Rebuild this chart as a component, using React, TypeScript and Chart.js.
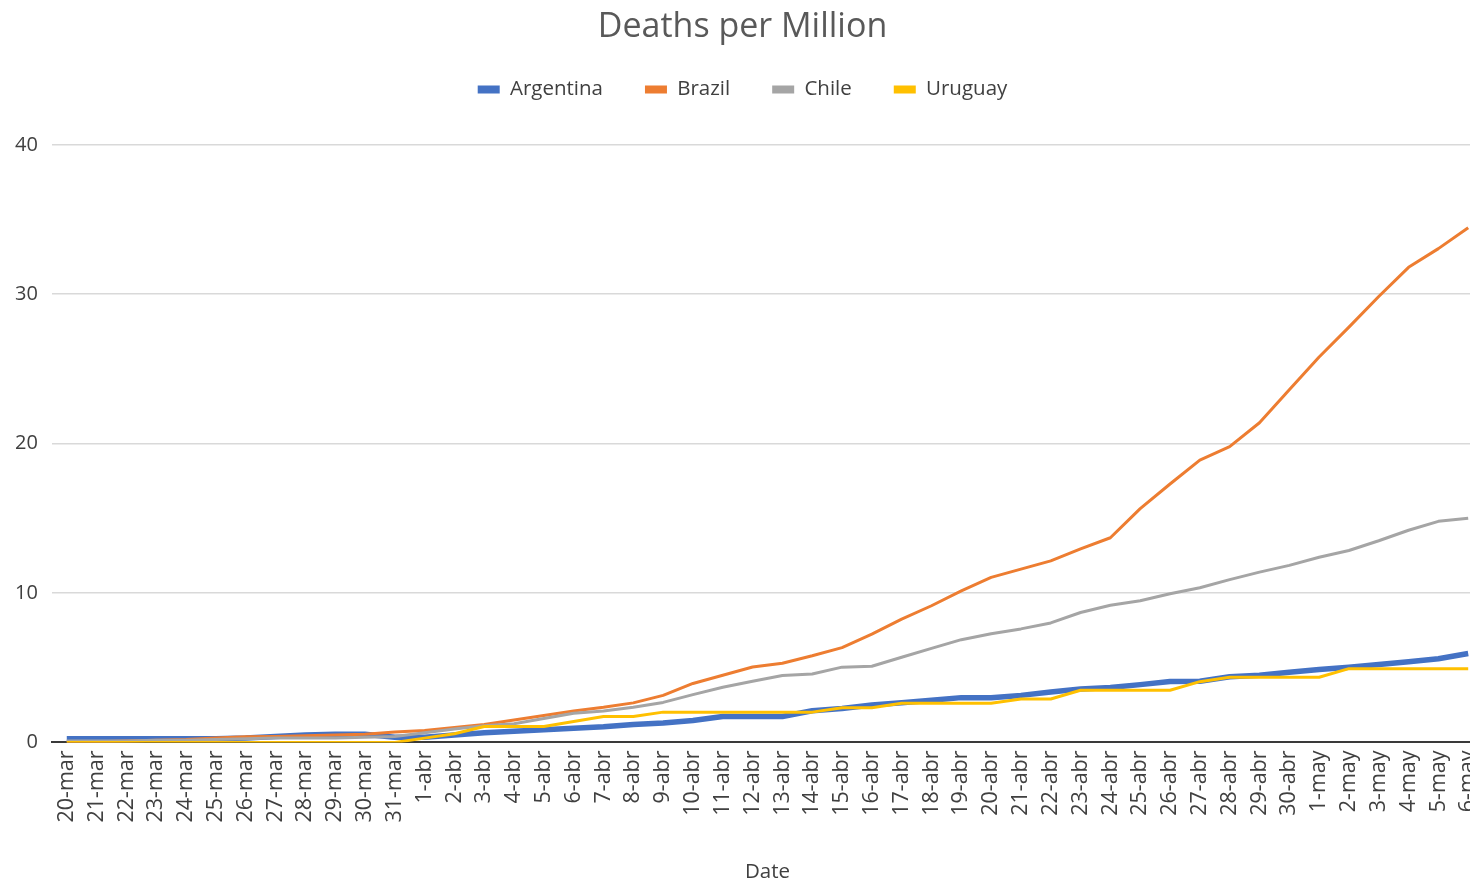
import React, { useEffect, useRef } from "react";
import { Chart, registerables } from "chart.js";

Chart.register(...registerables);

const dateLabels: string[] = [
  "20-mar", "21-mar", "22-mar", "23-mar", "24-mar", "25-mar", "26-mar", "27-mar", "28-mar", "29-mar", "30-mar", "31-mar",
  "1-abr", "2-abr", "3-abr", "4-abr", "5-abr", "6-abr", "7-abr", "8-abr", "9-abr", "10-abr",
  "11-abr", "12-abr", "13-abr", "14-abr", "15-abr", "16-abr", "17-abr", "18-abr", "19-abr", "20-abr",
  "21-abr", "22-abr", "23-abr", "24-abr", "25-abr", "26-abr", "27-abr", "28-abr", "29-abr", "30-abr",
  "1-may", "2-may", "3-may", "4-may", "5-may", "6-may",
];

const argentina: number[] = [
  0.25, 0.25, 0.25, 0.25, 0.25, 0.25, 0.3, 0.4, 0.5, 0.55, 0.55, 0.35,
  0.35, 0.5, 0.65, 0.75, 0.85, 0.95, 1.05, 1.2, 1.3, 1.47,
  1.74, 1.74, 1.74, 2.12, 2.27, 2.5, 2.65, 2.82, 3.0, 3.0,
  3.15, 3.38, 3.58, 3.68, 3.87, 4.08, 4.1, 4.4, 4.5, 4.7,
  4.88, 5.04, 5.22, 5.4, 5.6, 5.95,
];

const brazil: number[] = [
  0.05, 0.05, 0.1, 0.15, 0.2, 0.3, 0.38, 0.4, 0.45, 0.5, 0.55, 0.7,
  0.8, 1.0, 1.2, 1.5, 1.8, 2.1, 2.35, 2.65, 3.15, 3.95,
  4.5, 5.05, 5.3, 5.8, 6.35, 7.25, 8.25, 9.15, 10.15, 11.05,
  11.6, 12.15, 12.95, 13.7, 15.65, 17.3, 18.9, 19.8, 21.4, 23.6,
  25.8, 27.8, 29.85, 31.8, 33.05, 34.45,
];

const chile: number[] = [
  0.1, 0.1, 0.1, 0.15, 0.15, 0.2, 0.25, 0.3, 0.3, 0.3, 0.35, 0.4,
  0.65, 0.9, 1.12, 1.25, 1.6, 1.95, 2.1, 2.35, 2.68, 3.2,
  3.7, 4.1, 4.48, 4.58, 5.04, 5.1, 5.7, 6.3, 6.88, 7.28,
  7.6, 8.0, 8.7, 9.18, 9.48, 9.95, 10.35, 10.9, 11.4, 11.85,
  12.4, 12.85, 13.5, 14.2, 14.8, 15.0,
];

const uruguay: number[] = [
  0, 0, 0, 0, 0, 0, 0, 0, 0, 0, 0, 0,
  0.29, 0.58, 1.07, 1.07, 1.07, 1.4, 1.74, 1.74, 2.03, 2.03,
  2.03, 2.03, 2.03, 2.03, 2.33, 2.33, 2.62, 2.62, 2.62, 2.62,
  2.91, 2.91, 3.49, 3.49, 3.49, 3.49, 4.07, 4.36, 4.36, 4.36,
  4.36, 4.94, 4.94, 4.94, 4.94, 4.94,
];

const seriesNames: string[] = ["Argentina", "Brazil", "Chile", "Uruguay"];
const seriesColors: string[] = ["#4472C4", "#ED7D31", "#A5A5A5", "#FFC000"];
const seriesWidths: number[] = [5.5, 3, 3, 3];
// lower order is painted later (on top): Uruguay above Chile above Brazil above Argentina
const seriesOrder: number[] = [3, 2, 1, 0];

const FONT = "'Open Sans', 'Noto Sans', sans-serif";

// extra room between the legend row and the plot area
const legendGap = {
  id: "legendGap",
  beforeInit(chart: any) {
    const legend = chart.legend;
    if (!legend) return;
    const fit = legend.fit;
    legend.fit = function () {
      fit.call(this);
      this.height += 35;
    };
  },
};

export default function App() {
  const canvasRef = useRef<HTMLCanvasElement | null>(null);

  useEffect(() => {
    const canvas = canvasRef.current;
    if (!canvas) return;
    const values = [argentina, brazil, chile, uruguay];

    const chart = new Chart(canvas, {
      type: "line",
      data: {
        labels: dateLabels,
        datasets: seriesNames.map((name, i) => ({
          label: name,
          data: values[i],
          borderColor: seriesColors[i],
          backgroundColor: seriesColors[i],
          borderWidth: seriesWidths[i],
          pointRadius: 0,
          tension: 0,
          fill: false,
          order: seriesOrder[i],
          borderJoinStyle: "round" as const,
        })),
      },
      plugins: [legendGap],
      options: {
        animation: false,
        responsive: false,
        maintainAspectRatio: false,
        layout: { padding: { left: 0, right: 0, top: 0, bottom: 0 } },
        plugins: {
          tooltip: { enabled: false },
          title: {
            display: true,
            text: "Deaths per Million",
            color: "#595959",
            font: { family: FONT, size: 34, weight: "normal" },
            padding: { top: 6.5, bottom: -10 },
          },
          legend: {
            display: true,
            position: "top",
            labels: {
              color: "#404040",
              font: { family: FONT, size: 20.5 },
              boxWidth: 22,
              boxHeight: 8,
              padding: 42,
              sort: (a: any, b: any) => a.datasetIndex - b.datasetIndex,
              generateLabels: (c: any) =>
                Chart.defaults.plugins.legend.labels
                  .generateLabels(c)
                  .map((item: any) => ({
                    ...item,
                    lineWidth: 0,
                    fillStyle: seriesColors[item.datasetIndex],
                    strokeStyle: seriesColors[item.datasetIndex],
                  })),
            },
          },
        },
        scales: {
          x: {
            offset: true,
            grid: { display: false, drawTicks: false },
            border: { display: true, color: "#3a3a3a", width: 2 },
            ticks: {
              autoSkip: false,
              maxRotation: 90,
              minRotation: 90,
              padding: 8,
              color: "#404040",
              font: { family: FONT, size: 21.5 },
            },
            title: {
              display: true,
              text: "Date",
              color: "#404040",
              font: { family: FONT, size: 20.5 },
              padding: { top: 28.8, bottom: 0 },
            },
          },
          y: {
            min: 0,
            max: 40,
            afterFit: (scale: any) => {
              scale.width += 18;
            },
            ticks: {
              stepSize: 10,
              padding: 14,
              color: "#404040",
              font: { family: FONT, size: 20 },
            },
            grid: {
              drawTicks: false,
              color: (ctx: any) => (ctx.tick && ctx.tick.value === 0 ? "rgba(0,0,0,0)" : "#D9D9D9"),
              lineWidth: 1.5,
            },
            border: { display: false },
          },
        },
      },
    });

    return () => chart.destroy();
  }, []);

  return (
    <div
      style={{
        position: "fixed",
        left: 0,
        top: 0,
        width: 1470,
        height: 882,
        overflow: "hidden",
        background: "#ffffff",
      }}
    >
      <canvas
        ref={canvasRef}
        width={1519}
        height={884}
        style={{ display: "block", marginLeft: -17 }}
      />
    </div>
  );
}
